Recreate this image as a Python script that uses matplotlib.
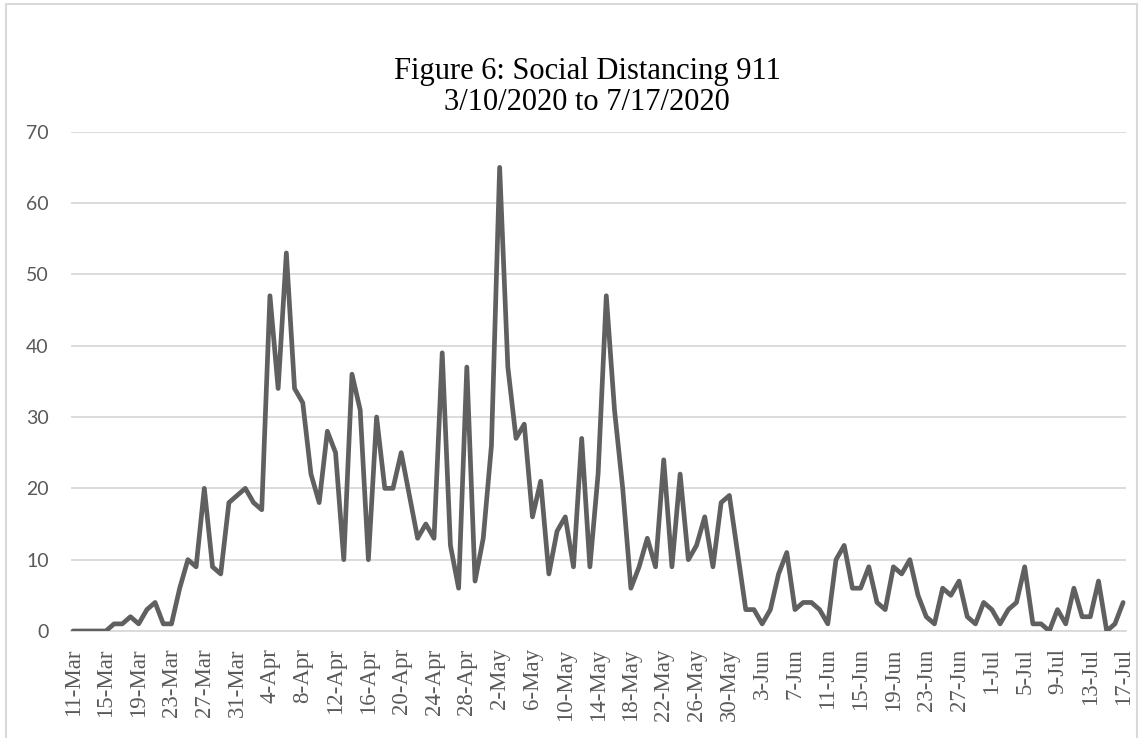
import numpy as np
import pandas as pd
import matplotlib
matplotlib.use("Agg")
import matplotlib.pyplot as plt
from matplotlib.patches import Rectangle

# daily counts, 11-Mar .. 17-Jul 2020
dates = pd.date_range("2020-03-11", "2020-07-17", freq="D")
calls = [0, 0, 0, 0, 0, 1, 1, 2, 1, 3, 4, 1, 1, 6, 10, 9, 20, 9, 8, 18,
         19, 20, 18, 17, 47, 34, 53, 34, 32, 22, 18, 28, 25, 10, 36, 31, 10, 30, 20, 20,
         25, 19, 13, 15, 13, 39, 12, 6, 37, 7, 13, 26, 65, 37, 27, 29, 16, 21, 8, 14,
         16, 9, 27, 9, 22, 47, 31, 20, 6, 9, 13, 9, 24, 9, 22, 10, 12, 16, 9, 18,
         19, 11, 3, 3, 1, 3, 8, 11, 3, 4, 4, 3, 1, 10, 12, 6, 6, 9, 4, 3,
         9, 8, 10, 5, 2, 1, 6, 5, 7, 2, 1, 4, 3, 1, 3, 4, 9, 1, 1, 0,
         3, 1, 6, 2, 2, 7, 0, 1, 4]
labels = [f"{d.day}-{d.strftime('%b')}" for d in dates]
y_ticks = [0, 10, 20, 30, 40, 50, 60, 70]

W, H = 1143, 738
fig = plt.figure(figsize=(W / 100, H / 100), dpi=100)

# chart area border
fig.patches.append(Rectangle((6 / W, -0.01), 1131 / W, (H - 4) / H + 0.01,
                             transform=fig.transFigure, fill=False,
                             edgecolor="#d9d9d9", linewidth=1.5))

ax = fig.add_axes([71 / W, 107 / H, (1126 - 71) / W, (631 - 131.7) / H])
x = np.arange(len(calls))
ax.plot(x, calls, color="#606060", linewidth=3.4, solid_joinstyle="round",
        solid_capstyle="round", zorder=3)

ax.set_xlim(-0.25, 128.35)
ax.set_ylim(0, 70)
ax.set_yticks(y_ticks)
ax.set_yticklabels([str(v) for v in y_ticks], family="Lato", fontsize=14,
                   color="#595959")
ax.set_xticks(x[::4])
ax.set_xticklabels(labels[::4], rotation=90, family="Liberation Serif",
                   fontsize=16.5, color="#595959")
ax.tick_params(axis="both", length=0)
ax.tick_params(axis="y", pad=16)
ax.tick_params(axis="x", pad=12.5)

ax.grid(axis="y", color="#d9d9d9", linewidth=1.3, zorder=0)
for s in ["top", "right", "left"]:
    ax.spines[s].set_visible(False)
ax.spines["bottom"].set_color("#d9d9d9")
ax.spines["bottom"].set_linewidth(1.3)

fig.text(587 / W, 1 - 72 / H, "Figure 6: Social Distancing 911",
         ha="center", va="center", family="Liberation Serif", fontsize=22,
         color="black")
fig.text(587 / W, 1 - 103 / H, "3/10/2020 to 7/17/2020",
         ha="center", va="center", family="Liberation Serif", fontsize=22,
         color="black")

fig.savefig("out.png", dpi=100)
